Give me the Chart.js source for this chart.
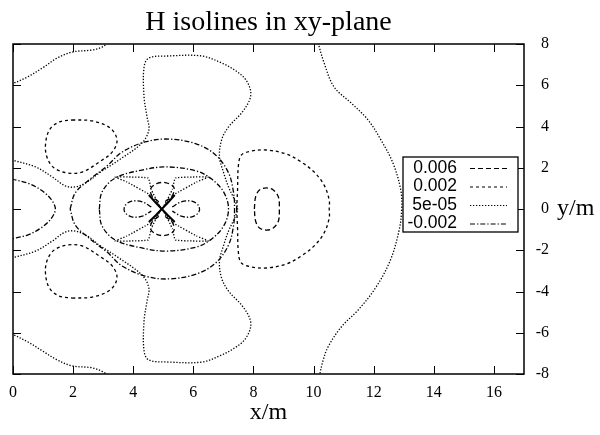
<!DOCTYPE html>
<html><head><meta charset="utf-8">
<script src="https://cdn.jsdelivr.net/npm/chart.js@4"></script>
<style>html,body{margin:0;padding:0;background:#fff}canvas{display:block}</style>
</head><body>
<canvas id="c" width="600" height="435"></canvas>
<script>
const titleText = 'H isolines in xy-plane';
const xTitle = 'x/m';
const yTitle = 'y/m';
const xTickValues = [0, 2, 4, 6, 8, 10, 12, 14, 16];
const yTickValues = [-8, -6, -4, -2, 0, 2, 4, 6, 8];
const levels = ['0.006', '0.002', '5e-05', '-0.002'];

// ---- level 5e-05 ----
const l5_cornerTop = [[-0.05,6.05],[0.48,6.40],[0.98,6.84],[1.47,7.32],[1.97,7.61],[2.63,7.71],[2.96,7.85],[3.15,8.05]];
const l5_cornerBottom = [[-0.05,-6.05],[0.5,-6.45],[1.0,-6.9],[1.45,-7.3],[1.95,-7.6],[2.63,-7.7],[2.96,-7.87],[3.15,-8.05]];
const l5_main = [[-0.05,2.38],[0.75,2.04],[1.31,1.55],[1.74,1.12],[2.07,1.07],[2.47,1.31],[2.87,1.75],[3.53,2.38],[4.29,3.20],[4.52,3.83],[4.46,4.46],[4.36,5.43],[4.36,6.88],[4.52,7.32],[5.18,7.42],[6.28,7.42],[6.94,7.08],[7.37,6.74],[7.70,6.35],[7.90,5.77],[7.87,5.28],[7.60,4.65],[7.17,3.98],[6.94,3.35],[6.87,2.52],[7.01,1.75],[7.17,1.07],[7.37,0.44],[7.47,0],
  [7.37,-0.44],[7.17,-1.07],[7.01,-1.75],[6.87,-2.52],[6.94,-3.35],[7.17,-3.98],[7.60,-4.65],[7.87,-5.28],[7.90,-5.77],[7.70,-6.35],[7.37,-6.74],[6.94,-7.08],[6.28,-7.42],[5.18,-7.42],[4.52,-7.32],[4.36,-6.88],[4.36,-5.43],[4.46,-4.46],[4.52,-3.83],[4.29,-3.20],[3.53,-2.38],[2.87,-1.75],[2.47,-1.31],[2.07,-1.07],[1.74,-1.12],[1.31,-1.55],[0.75,-2.04],[-0.05,-2.38]];
const l5_right = [[10.15,8.05],[10.35,7.08],[10.68,5.92],[11.25,5.14],[11.81,4.32],[12.24,3.35],[12.64,2.23],[12.90,0.92],[12.93,0],[12.85,-1.0],[12.55,-2.5],[12.05,-3.85],[11.48,-4.9],[10.92,-5.72],[10.48,-6.69],[10.32,-7.32],[10.2,-8.05]];
const l5_leafUL = [[4.9,0.1],[4.56,0.68],[3.79,1.31],[3.4,1.55],[3.95,1.55],[4.5,1.5],[4.6,0.95],[4.8,0.35],[4.9,0.1]];
const l5_leafUR = [[5.0,0.1],[5.34,0.68],[6.11,1.31],[6.5,1.55],[5.95,1.55],[5.4,1.5],[5.3,0.95],[5.1,0.35],[5.0,0.1]];
const l5_leafLL = [[4.9,-0.1],[4.56,-0.68],[3.79,-1.31],[3.4,-1.55],[3.95,-1.55],[4.5,-1.5],[4.6,-0.95],[4.8,-0.35],[4.9,-0.1]];
const l5_leafLR = [[5.0,-0.1],[5.34,-0.68],[6.11,-1.31],[6.5,-1.55],[5.95,-1.55],[5.4,-1.5],[5.3,-0.95],[5.1,-0.35],[5.0,-0.1]];

// ---- level -0.002 ----
const lm2_outer = [[1.90,0],[2.07,0.78],[2.53,1.41],[3.13,2.09],[3.63,2.76],[4.39,3.25],[5.18,3.39],[6.11,3.15],[6.74,2.62],[7.17,1.75],[7.34,0.78],[7.37,0],[7.34,-0.78],[7.17,-1.75],[6.74,-2.62],[6.11,-3.15],[5.18,-3.39],[4.39,-3.25],[3.63,-2.76],[3.13,-2.09],[2.53,-1.41],[2.07,-0.78],[1.90,0]];
const lm2_inner = [[2.87,0],[2.96,0.82],[3.40,1.50],[4.29,1.89],[5.12,2.04],[6.11,1.84],[6.61,1.45],[7.01,0.82],[7.17,0],[7.01,-0.82],[6.61,-1.45],[6.11,-1.84],[5.12,-2.04],[4.29,-1.89],[3.40,-1.50],[2.96,-0.82],[2.87,0]];
const lm2_edge = [[-0.05,1.45],[0.5,1.25],[0.9,0.95],[1.25,0.5],[1.41,0],[1.25,-0.5],[0.9,-0.95],[0.5,-1.25],[-0.05,-1.45]];
const lm2_petalL = [[4.6,0.1],[4.3,0.35],[3.95,0.38],[3.72,0.15],[3.72,-0.15],[3.95,-0.38],[4.3,-0.35],[4.6,-0.1]];
const lm2_petalR = [[5.3,0.1],[5.6,0.35],[5.95,0.38],[6.18,0.15],[6.18,-0.15],[5.95,-0.38],[5.6,-0.35],[5.3,-0.1]];

// ---- level 0.002 ----
const l2_loopTop = [[1.97,4.32],[2.63,4.27],[3.23,3.93],[3.46,3.35],[3.30,2.76],[2.87,2.28],[2.30,1.79],[1.81,1.75],[1.37,1.99],[1.14,2.47],[1.08,3.10],[1.21,3.83],[1.54,4.22],[1.97,4.32]];
const l2_loopBottom = [[1.97,-4.32],[2.63,-4.27],[3.23,-3.93],[3.46,-3.35],[3.30,-2.76],[2.87,-2.28],[2.30,-1.79],[1.81,-1.75],[1.37,-1.99],[1.14,-2.47],[1.08,-3.10],[1.21,-3.83],[1.54,-4.22],[1.97,-4.32]];
const l2_dLoop = [[7.44,0],[7.47,0.92],[7.50,2.13],[7.60,2.62],[7.93,2.81],[8.43,2.86],[9.09,2.67],[9.59,2.28],[10.02,1.79],[10.35,1.16],[10.52,0.44],[10.52,0],[10.52,-0.44],[10.35,-1.16],[10.02,-1.79],[9.59,-2.28],[9.09,-2.67],[8.43,-2.86],[7.93,-2.81],[7.60,-2.62],[7.50,-2.13],[7.47,-0.92],[7.44,0]];

// ---- level 0.006 ----
const l6_small = [[8.03,0],[8.07,0.58],[8.20,0.92],[8.43,1.02],[8.66,0.92],[8.83,0.58],[8.86,0],[8.83,-0.58],[8.66,-0.92],[8.43,-1.02],[8.20,-0.92],[8.07,-0.58],[8.03,0]];
const l6_petalT = [[4.85,0.35],[4.62,0.65],[4.58,0.98],[4.8,1.24],[5.1,1.27],[5.35,1.05],[5.3,0.65],[5.05,0.35]];
const l6_petalB = [[4.85,-0.35],[4.62,-0.65],[4.58,-0.98],[4.8,-1.24],[5.1,-1.27],[5.35,-1.05],[5.3,-0.65],[5.05,-0.35]];
const l6_crossA = [[4.52,0.68],[4.75,0.3],[4.95,0],[5.15,-0.3],[5.38,-0.63]];
const l6_crossB = [[5.38,0.68],[5.15,0.3],[4.95,0],[4.75,-0.3],[4.52,-0.63]];

const levelDash = { '0.006': [5, 3], '0.002': [3, 3], '5e-05': [1.3, 1.7], '-0.002': [5, 2, 1.3, 2] };

function ds(level, arr, opts) {
  return Object.assign({
    label: level,
    data: arr.map(p => ({ x: p[0], y: p[1] })),
    showLine: true,
    borderColor: '#000',
    backgroundColor: '#000',
    borderWidth: 1.3,
    borderDash: levelDash[level],
    pointRadius: 0,
    pointHoverRadius: 0,
    fill: false,
    tension: 0.35
  }, opts || {});
}

const datasets = [
  ds('0.006', l6_small),
  ds('0.006', l6_petalT),
  ds('0.006', l6_petalB),
  ds('0.006', l6_crossA, { borderDash: [], borderWidth: 2, tension: 0 }),
  ds('0.006', l6_crossB, { borderDash: [], borderWidth: 2, tension: 0 }),
  ds('0.002', l2_loopTop),
  ds('0.002', l2_loopBottom),
  ds('0.002', l2_dLoop),
  ds('5e-05', l5_cornerTop),
  ds('5e-05', l5_cornerBottom),
  ds('5e-05', l5_main),
  ds('5e-05', l5_right),
  ds('5e-05', l5_leafUL, { tension: 0.1 }),
  ds('5e-05', l5_leafUR, { tension: 0.1 }),
  ds('5e-05', l5_leafLL, { tension: 0.1 }),
  ds('5e-05', l5_leafLR, { tension: 0.1 }),
  ds('-0.002', lm2_outer),
  ds('-0.002', lm2_inner),
  ds('-0.002', lm2_edge),
  ds('-0.002', lm2_petalL),
  ds('-0.002', lm2_petalR)
];

const frameTicks = {
  id: 'frameTicks',
  afterDraw(chart) {
    const { ctx, chartArea: a, scales } = chart;
    const tl = 8;
    ctx.save();
    ctx.strokeStyle = '#000';
    ctx.lineWidth = 1;
    ctx.beginPath();
    xTickValues.forEach(v => {
      const px = Math.round(scales.x.getPixelForValue(v)) + 0.5;
      ctx.moveTo(px, a.bottom); ctx.lineTo(px, a.bottom - tl);
      ctx.moveTo(px, a.top); ctx.lineTo(px, a.top + tl);
    });
    yTickValues.forEach(v => {
      const py = Math.round(scales.y.getPixelForValue(v)) + 0.5;
      ctx.moveTo(a.left, py); ctx.lineTo(a.left + tl, py);
      ctx.moveTo(a.right, py); ctx.lineTo(a.right - tl, py);
    });
    ctx.stroke();
    ctx.lineWidth = 1.5;
    ctx.strokeRect(a.left, a.top, a.right - a.left, a.bottom - a.top);
    ctx.fillStyle = '#000';
    ctx.font = '24px "Liberation Serif", "Times New Roman", serif';
    ctx.textAlign = 'left';
    ctx.textBaseline = 'middle';
    ctx.fillText(yTitle, a.right + 33, scales.y.getPixelForValue(0));
    const bx = 403, by = 157, bw = 115, bh = 75, rowH = 18.5;
    ctx.fillStyle = '#fff';
    ctx.fillRect(bx, by, bw, bh);
    ctx.lineWidth = 1.3;
    ctx.strokeStyle = '#000';
    ctx.strokeRect(bx, by, bw, bh);
    ctx.font = '17.5px "Liberation Sans", Arial, sans-serif';
    ctx.textAlign = 'right';
    levels.forEach((lv, i) => {
      const cy = by + 11 + i * rowH;
      ctx.fillStyle = '#000';
      ctx.fillText(lv, bx + 54, cy);
      ctx.setLineDash(levelDash[lv]);
      ctx.lineWidth = 1.2;
      ctx.beginPath();
      ctx.moveTo(bx + 67, cy + 0.5);
      ctx.lineTo(bx + 104, cy + 0.5);
      ctx.stroke();
      ctx.setLineDash([]);
    });
    ctx.restore();
  }
};

new Chart(document.getElementById('c'), {
  type: 'scatter',
  data: { datasets },
  options: {
    responsive: false,
    animation: false,
    events: [],
    layout: { padding: { left: 10, right: 51, top: 0, bottom: 0 } },
    plugins: {
      legend: { display: false },
      tooltip: { enabled: false },
      title: {
        display: true,
        text: titleText,
        fullSize: false,
        color: '#000',
        font: { family: '"Liberation Serif", "Times New Roman", serif', size: 28, weight: 'normal' },
        padding: { top: 6, bottom: 4.4 }
      }
    },
    scales: {
      x: {
        type: 'linear', min: 0, max: 17,
        afterBuildTicks: s => { s.ticks = xTickValues.map(v => ({ value: v })); },
        ticks: { color: '#000', padding: 9, maxRotation: 0, font: { family: '"Liberation Serif", serif', size: 16 } },
        grid: { display: false, drawTicks: false },
        border: { display: false },
        title: { display: true, text: xTitle, color: '#000', font: { family: '"Liberation Serif", serif', size: 24 }, padding: { top: 0, bottom: 8 } },
        afterFit: s => { s.height = 61; }
      },
      y: {
        type: 'linear', position: 'right', min: -8, max: 8,
        afterBuildTicks: s => { s.ticks = yTickValues.map(v => ({ value: v })); },
        ticks: { color: '#000', padding: 12, crossAlign: 'far', font: { family: '"Liberation Serif", serif', size: 16 } },
        grid: { display: false, drawTicks: false },
        border: { display: false },
        afterFit: s => { s.width = 25; }
      }
    }
  },
  plugins: [frameTicks]
});
</script>
</body></html>
